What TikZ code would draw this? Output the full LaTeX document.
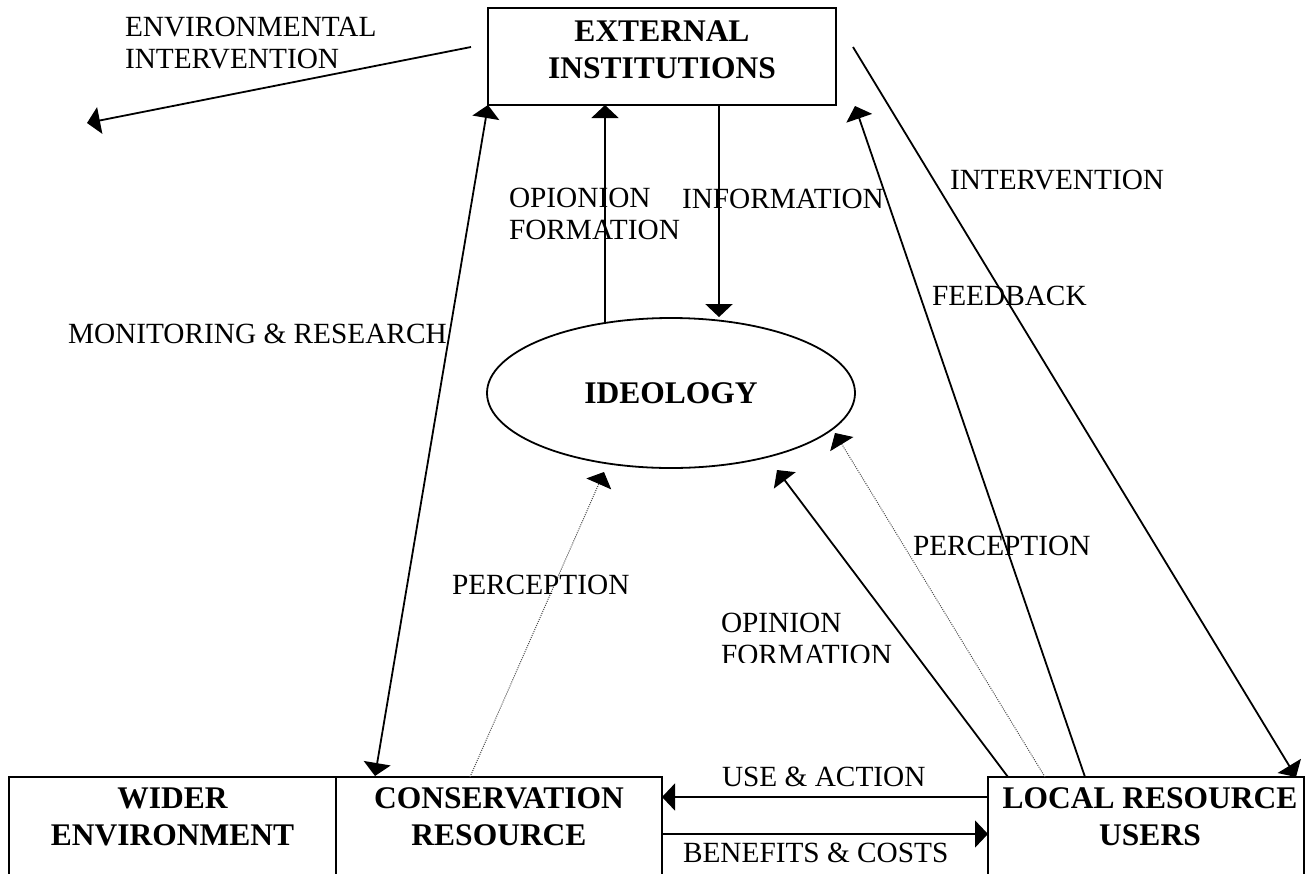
\documentclass[tikz,border=0pt]{standalone}
\usepackage{fontspec}
\setmainfont{Liberation Serif}
\usetikzlibrary{arrows.meta,shapes.geometric,calc}

\tikzset{
  lbl/.style={font=\fontsize{29.3}{32}\selectfont, inner sep=0pt, outer sep=0pt, align=left, anchor=west},
  ttl/.style={font=\fontsize{31.5}{37}\selectfont\bfseries, inner sep=0pt, outer sep=0pt, align=center},
  box/.style={draw, line width=1.8pt, inner sep=0pt, outer sep=0pt, minimum width=#1, minimum height=97.5pt},
  arr/.style={line width=1.8pt, -{Triangle[length=13pt,width=27pt]}},
  dbl/.style={line width=1.8pt, {Triangle[length=13pt,width=27pt]}-{Triangle[length=13pt,width=27pt]}},
  dotarr/.style={line width=1pt, black!70, dash pattern=on 1pt off 1.2pt,
                 -{Triangle[length=13pt,width=27pt,black]}}
}

\begin{document}
\begin{tikzpicture}[x=1pt,y=-1pt]
  \useasboundingbox (0,0) rectangle (1306,873);
  \fill[white] (0,0) rectangle (1306,873);

  % main blocks
  \node[box=348pt, minimum height=97pt] (ext) at (662,56.5) {};
  \node[ttl] (extT) at (662,50) {EXTERNAL\\INSTITUTIONS};

  \node[draw, ellipse, line width=1.8pt, minimum width=368pt, minimum height=150pt,
        inner sep=0pt, font=\fontsize{31.5}{37}\selectfont\bfseries] (ideo) at (671,393) {IDEOLOGY};

  % the bottom row runs just past the lower edge of the page
  \node[box=327pt] (wider) at (172.5,825.75) {};
  \node[ttl] (widerT) at (172.5,817) {WIDER\\ENVIRONMENT};

  \node[box=326pt] (cons) at (499,825.75) {};
  \node[ttl] (consT) at (499,817) {CONSERVATION\\RESOURCE};

  \node[box=316pt] (local) at (1146,825.75) {};
  \node[ttl] (localT) at (1150,817) {LOCAL RESOURCE\\USERS};

  % free ends of the environmental intervention arrow
  \coordinate (envA) at (471,47);
  \coordinate (envB) at (87,123);
  \draw[arr] (envA) -- (envB);

  % monitoring & research
  \draw[dbl] (ext.south west) -- ($(cons.north west)+(39,-1)$);

  % opinion formation and information between institutions and ideology
  \draw[arr] ($(ideo.north)+(-66,5)$) coordinate (o1) -- (o1 |- ext.south);
  \draw[arr] ($(ext.south west)+(231,0)$) coordinate (i1) -- (i1 |- ideo.north);

  % intervention and feedback
  \draw[arr] ($(ext.north east)+(17,39)$) -- ($(local.north west)+(308,0)$);
  \draw[arr] ($(local.north west)+(97,0)$) -- ($(ext.south east)+(19,1)$);

  % perception and opinion formation towards ideology
  \draw[dotarr] ($(local.north west)+(57,0)$) -- ($(ideo.center)+(164,40)$);
  \draw[arr] ($(local.north west)+(20,0)$) -- ($(ideo.center)+(106,77)$);
  \draw[dotarr] ($(cons.north west)+(134,0)$) -- ($(ideo.center)+(-67,79)$);

  % exchanges between users and the resource
  \draw[arr] ($(local.north west)+(0,20)$) coordinate (u1) -- (u1 -| cons.east);
  \draw[arr] ($(cons.north east)+(0,57)$) coordinate (b1) -- (b1 -| local.west);

  % labels
  \node[lbl] (lEnv) at (125,43.5) {ENVIRONMENTAL\\INTERVENTION};
  \node[lbl] (lOpi) at (509,214) {OPIONION\\FORMATION};
  \node[lbl] (lInf) at (682,198.5) {INFORMATION};
  \node[lbl] (lInt) at (950,180) {INTERVENTION};
  \node[lbl] (lFee) at (932,296) {FEEDBACK};
  \node[lbl] (lMon) at (68,333.5) {MONITORING \& RESEARCH};
  \node[lbl] (lPerL) at (452,584.5) {PERCEPTION};
  \node[lbl] (lPerR) at (913,545.5) {PERCEPTION};
  \begin{scope}
    \clip (700,590) rectangle (1000,662);
    \node[lbl] (lOpF) at (721,639) {OPINION\\FORMATION};
  \end{scope}
  \node[lbl] (lUse) at (722,776.5) {USE \& ACTION};
  \node[lbl] (lBen) at (683,853) {BENEFITS \& COSTS};
\end{tikzpicture}
\end{document}
